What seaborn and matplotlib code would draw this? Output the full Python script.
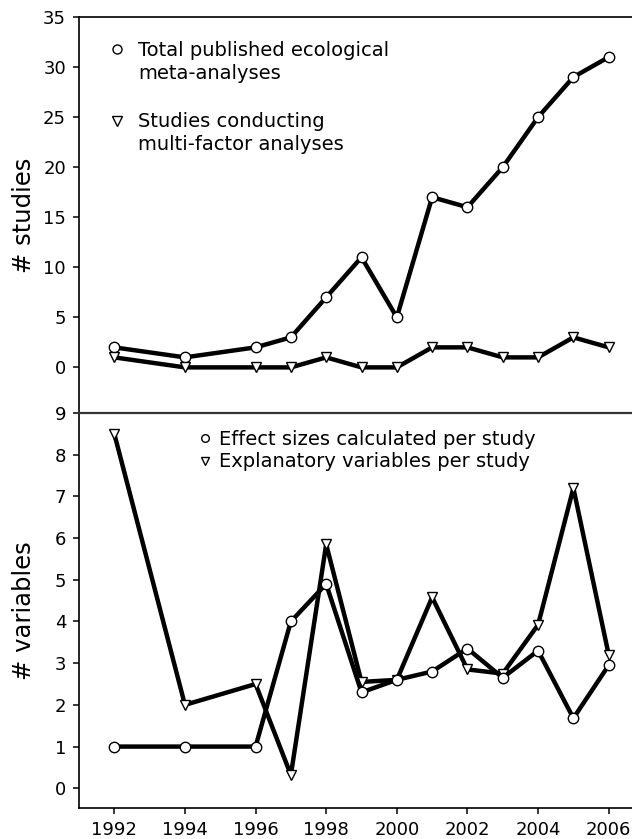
import matplotlib
matplotlib.use("Agg")
import matplotlib.pyplot as plt
from matplotlib.lines import Line2D
import numpy as np
import pandas as pd
import seaborn as sns

years = [1992, 1994, 1996, 1997, 1998, 1999, 2000, 2001, 2002, 2003, 2004, 2005, 2006]
total_meta = [2, 1, 2, 3, 7, 11, 5, 17, 16, 20, 25, 29, 31]
multi_factor = [1, 0, 0, 0, 1, 0, 0, 2, 2, 1, 1, 3, 2]
effect_sizes = [1, 1, 1, 4.0, 4.9, 2.3, 2.6, 2.8, 3.35, 2.65, 3.3, 1.68, 2.95]
explanatory = [8.5, 2.0, 2.5, 0.32, 5.85, 2.55, 2.6, 4.58, 2.85, 2.75, 3.92, 7.2, 3.2]
xtick_years = [1992, 1994, 1996, 1998, 2000, 2002, 2004, 2006]

sns.set_style("ticks")
plt.rcParams["font.family"] = ["DejaVu Sans"]
plt.rcParams["text.color"] = "black"
plt.rcParams["axes.labelcolor"] = "black"

df = pd.DataFrame({"year": years, "total": total_meta, "multi": multi_factor,
                   "effect": effect_sizes, "expl": explanatory})

fig = plt.figure(figsize=(6.32, 8.39), dpi=100)
ax1 = fig.add_axes([0.125, 0.5077, 0.894, 0.472])
ax2 = fig.add_axes([0.125, 0.0366, 0.894, 0.4712])

line_kw = dict(color="black", lw=3.2, markersize=7.5, markerfacecolor="white",
               markeredgecolor="black", markeredgewidth=1.0)

sns.lineplot(data=df, x="year", y="total", marker="o", ax=ax1, **line_kw)
sns.lineplot(data=df, x="year", y="multi", marker="v", ax=ax1, **line_kw)
sns.lineplot(data=df, x="year", y="expl", marker="v", ax=ax2, **line_kw)
sns.lineplot(data=df, x="year", y="effect", marker="o", ax=ax2, **line_kw)

for ax in (ax1, ax2):
    ax.set_xlim(1991, 2007)
    ax.set_xlabel("")
    ax.spines["right"].set_visible(False)
    for s in ("left", "top", "bottom"):
        ax.spines[s].set_color("black")
        ax.spines[s].set_linewidth(1.2)
    ax.tick_params(axis="both", direction="out", length=4.3, width=1.1,
                   labelsize=13, colors="black", pad=5)

ax1.set_ylim(-4.56, 35)
ax1.set_yticks([0, 5, 10, 15, 20, 25, 30, 35])
ax1.spines["bottom"].set_visible(False)
ax1.tick_params(axis="x", bottom=False, labelbottom=False)
ax1.set_ylabel("# studies", fontsize=17.5)

ax2.set_ylim(-0.48, 9)
ax2.set_yticks(range(0, 10))
ax2.set_xticks(xtick_years)
ax2.spines["top"].set_color("#333333")
ax2.spines["top"].set_linewidth(1.6)
ax2.set_ylabel("# variables", fontsize=17.5)

for ax in (ax1, ax2):
    ax.yaxis.set_label_coords(-0.076, 0.5)

def handle(m, ms):
    return Line2D([], [], ls="none", marker=m, markersize=ms,
                  markerfacecolor="white", markeredgecolor="black", markeredgewidth=1.0)

blank = Line2D([], [], ls="none")
leg_kw = dict(frameon=False, loc="upper left", fontsize=14, borderpad=0,
              borderaxespad=0, handlelength=0.6, labelspacing=0.2,
              bbox_transform=fig.transFigure)

leg_a = ax1.legend([handle("o", 6.5), blank],
                   ["Total published ecological", "meta-analyses"],
                   bbox_to_anchor=(0.176, 0.951), handletextpad=0.8, **leg_kw)
ax1.add_artist(leg_a)
ax1.legend([handle("v", 6.5), blank],
           ["Studies conducting", "multi-factor analyses"],
           bbox_to_anchor=(0.176, 0.866), handletextpad=0.8, **leg_kw)

ax2.legend([handle("o", 5.5), handle("v", 5.5)],
           ["Effect sizes calculated per study", "Explanatory variables per study"],
           bbox_to_anchor=(0.315, 0.488), handletextpad=0.4, **leg_kw)

fig.savefig("out.png", dpi=100)
